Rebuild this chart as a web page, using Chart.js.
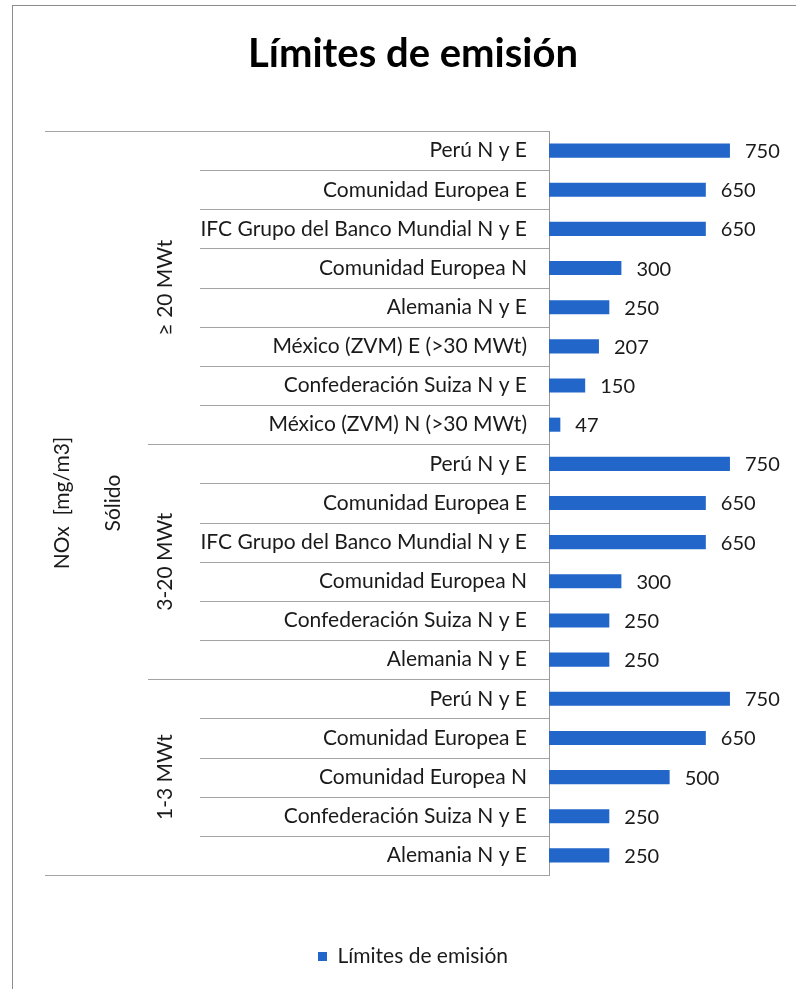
<!DOCTYPE html>
<html>
<head>
<meta charset="utf-8">
<script src="https://cdn.jsdelivr.net/npm/chart.js@4.4.1/dist/chart.umd.min.js"></script>
<style>
  html, body { margin: 0; padding: 0; background: #fff; }
  #wrap { width: 796px; height: 989px; position: relative; }
</style>
</head>
<body>
<div id="wrap"><canvas id="limites_chart"></canvas></div>
<script>
const title = "Límites de emisión";
const seriesName = "Límites de emisión";
const categories = [
  "Perú N y E", "Comunidad Europea E", "IFC Grupo del Banco Mundial N y E", "Comunidad Europea N",
  "Alemania N y E", "México (ZVM) E (>30 MWt)", "Confederación Suiza N y E", "México (ZVM) N (>30 MWt)",
  "Perú N y E", "Comunidad Europea E", "IFC Grupo del Banco Mundial N y E", "Comunidad Europea N",
  "Confederación Suiza N y E", "Alemania N y E",
  "Perú N y E", "Comunidad Europea E", "Comunidad Europea N", "Confederación Suiza N y E", "Alemania N y E"
];
const values = [750, 650, 650, 300, 250, 207, 150, 47, 750, 650, 650, 300, 250, 250, 750, 650, 500, 250, 250];
const groups = ["≥ 20 MWt", "3-20 MWt", "1-3 MWt"];
const groupSizes = [8, 6, 5];
const fuel = "Sólido";
const pollutant = "NOx  [mg/m3]";

const FONT = "Lato, 'Open Sans', sans-serif";
const LINE = "#a3a3a3";

// frame, category separators, group labels and value labels
const axisExtras = {
  id: 'axisExtras',
  beforeDraw(chart) {
    const ctx = chart.ctx;
    ctx.save();
    ctx.strokeStyle = "#8c8c8c";
    ctx.lineWidth = 1;
    ctx.strokeRect(12.5, 5.5, 900, 1100);
    ctx.restore();
  },
  afterDraw(chart) {
    const ctx = chart.ctx;
    const y = chart.scales.y;
    const axisX = chart.chartArea.left;
    const n = categories.length;
    const groupEnds = [];
    let acc = 0;
    groupSizes.forEach(s => { acc += s; groupEnds.push(acc); });

    ctx.save();
    ctx.strokeStyle = LINE;
    ctx.lineWidth = 1;
    for (let b = 0; b <= n; b++) {
      const py = Math.round(y.getPixelForValue(b - 0.5)) + 0.5;
      let x0 = 200;
      if (b === 0 || b === n) x0 = 45;
      else if (groupEnds.includes(b)) x0 = 148;
      ctx.beginPath();
      ctx.moveTo(x0, py);
      ctx.lineTo(axisX, py);
      ctx.stroke();
    }

    // rotated group labels
    ctx.fillStyle = "#1a1a1a";
    ctx.font = "21px " + FONT;
    ctx.textAlign = "center";
    ctx.textBaseline = "middle";
    const vText = (txt, x, cy) => {
      ctx.save();
      ctx.translate(x, cy);
      ctx.rotate(-Math.PI / 2);
      ctx.fillText(txt, 0, 0);
      ctx.restore();
    };
    let start = 0;
    groups.forEach((g, i) => {
      const top = y.getPixelForValue(start - 0.5);
      const bottom = y.getPixelForValue(start + groupSizes[i] - 0.5);
      vText(g, 165, (top + bottom) / 2);
      start += groupSizes[i];
    });
    const mid = (y.getPixelForValue(-0.5) + y.getPixelForValue(n - 0.5)) / 2;
    vText(fuel, 113, mid);
    vText(pollutant, 62, mid);

    // value labels
    ctx.font = "20px " + FONT;
    ctx.textAlign = "left";
    const meta = chart.getDatasetMeta(0);
    meta.data.forEach((bar, i) => {
      ctx.fillText(String(values[i]), bar.x + 15, bar.y + 1);
    });
    ctx.restore();
  }
};

const ctx = document.getElementById('limites_chart');
const limitesChart = new Chart(ctx, {
  type: 'bar',
  data: {
    labels: categories,
    datasets: [{
      label: seriesName,
      data: values,
      backgroundColor: "#2166c8",
      barPercentage: 0.36,
      categoryPercentage: 1
    }]
  },
  options: {
    indexAxis: 'y',
    responsive: true,
    maintainAspectRatio: false,
    animation: false,
    layout: { padding: { left: 84, right: 54, top: 0, bottom: 12 } },
    scales: {
      x: {
        min: 0,
        max: 800,
        display: true,
        grid: { display: false },
        border: { display: false },
        ticks: { display: false },
        afterFit(scale) { scale.height = 61; }
      },
      y: {
        grid: { display: false, drawTicks: false },
        border: { display: true, color: "#9a9a9a", width: 1 },
        ticks: {
          color: "#1a1a1a",
          padding: 22,
          font: { family: FONT, size: 21 }
        },
        afterFit(scale) { scale.width = 549 - 84; }
      }
    },
    plugins: {
      title: {
        display: true,
        text: title,
        color: "#000",
        font: { family: FONT, size: 40, weight: 'bold' },
        padding: { top: 30, bottom: 53 }
      },
      legend: {
        position: 'bottom',
        labels: {
          color: "#1a1a1a",
          boxWidth: 9,
          boxHeight: 9,
          font: { family: FONT, size: 21 }
        }
      },
      tooltip: { enabled: false }
    }
  },
  plugins: [axisExtras]
});
</script>
</body>
</html>
